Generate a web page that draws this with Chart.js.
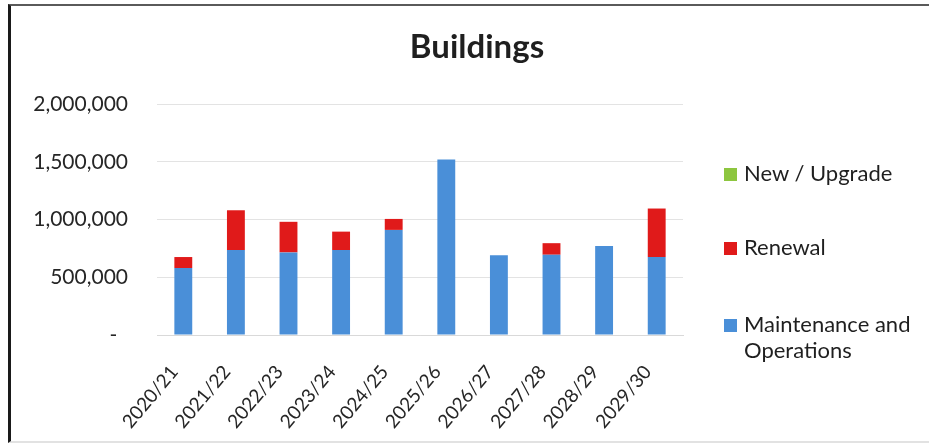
<!DOCTYPE html>
<html>
<head>
<meta charset="utf-8">
<script src="https://cdn.jsdelivr.net/npm/chart.js@4/dist/chart.umd.min.js"></script>
<style>
    body { margin: 0; background: #fff; font-family: Lato, sans-serif; }
    #wrap { position: relative; width: 929px; height: 447px; }
    #buildingsChart { position: absolute; left: 0; top: 0; }
    #frame {
        position: absolute; left: 8px; top: 4px; width: 921px; height: 435px;
        border-left: 3px solid #1a1a1a; border-top: 2px solid #5a5a5a; border-bottom: 2px solid #e2e2e2;
        pointer-events: none;
    }
    #title {
        position: absolute; left: 377px; top: 25px; width: 200px; text-align: center;
        font: bold 33px Lato, sans-serif; color: #1f1f1f;
    }
    #legend { position: absolute; left: 724px; top: 0; font: 22px Lato, sans-serif; color: #1f1f1f; }
    .item { position: absolute; left: 0; display: flex; align-items: flex-start; line-height: 26px; white-space: nowrap; }
    .item .box { width: 13px; height: 13px; margin-top: 7.5px; margin-right: 7px; flex: none; }
</style>
</head>
<body>
<div id="wrap">
    <canvas id="buildingsChart" width="929" height="447"></canvas>
    <div id="title">Buildings</div>
    <div id="legend"></div>
    <div id="frame"></div>
</div>
<script>
const years = ['2020/21', '2021/22', '2022/23', '2023/24', '2024/25', '2025/26', '2026/27', '2027/28', '2028/29', '2029/30'];
const maintenance = [580000, 735000, 715000, 735000, 910000, 1520000, 690000, 695000, 770000, 675000];
const renewal = [95000, 345000, 265000, 160000, 95000, 0, 0, 100000, 0, 420000];
const newUpgrade = [0, 0, 0, 0, 0, 0, 0, 0, 0, 0];
const yTicks = [0, 500000, 1000000, 1500000, 2000000];

const ctx = document.getElementById('buildingsChart').getContext('2d');
const buildingsChart = new Chart(ctx, {
    type: 'bar',
    data: {
        labels: years,
        datasets: [
            { label: ['Maintenance and', 'Operations'], data: maintenance, backgroundColor: '#4a8fd8' },
            { label: ['Renewal'], data: renewal, backgroundColor: '#e01a1a' },
            { label: ['New / Upgrade'], data: newUpgrade, backgroundColor: '#8dc63f' }
        ]
    },
    options: {
        responsive: false,
        animation: false,
        layout: { padding: { top: 104, right: 246, bottom: 0, left: 0 } },
        datasets: { bar: { categoryPercentage: 1, barPercentage: 0.34, borderWidth: 0 } },
        plugins: { legend: { display: false }, title: { display: false }, tooltip: { enabled: false } },
        scales: {
            x: {
                stacked: true,
                grid: { display: false, drawTicks: false },
                border: { display: true, color: '#d9d9d9', width: 1 },
                ticks: { minRotation: 50, maxRotation: 50, padding: 26, labelOffset: -9, color: '#262626', font: { family: 'Lato', size: 19 } },
                afterFit: s => { s.height = 112; }
            },
            y: {
                stacked: true,
                min: 0,
                max: 2000000,
                afterBuildTicks: s => { s.ticks = yTicks.map(v => ({ value: v })); },
                grid: { color: '#e3e3e3', drawTicks: false },
                border: { display: false },
                ticks: {
                    padding: 29,
                    color: '#262626',
                    font: { family: 'Lato', size: 21 },
                    callback: v => v === 0 ? '-  ' : v.toLocaleString('en-US')
                },
                afterFit: s => { s.width = 157; }
            }
        }
    }
});

// legend built from the datasets, listed top-down in reverse order
const legendTops = [160, 234, 311];
const legendEl = document.getElementById('legend');
buildingsChart.data.datasets.slice().reverse().forEach((ds, i) => {
    const item = document.createElement('div');
    item.className = 'item';
    item.style.top = legendTops[i] + 'px';
    item.innerHTML = '<span class="box" style="background:' + ds.backgroundColor + '"></span><span>' + ds.label.join('<br>') + '</span>';
    legendEl.appendChild(item);
});
</script>
</body>
</html>
